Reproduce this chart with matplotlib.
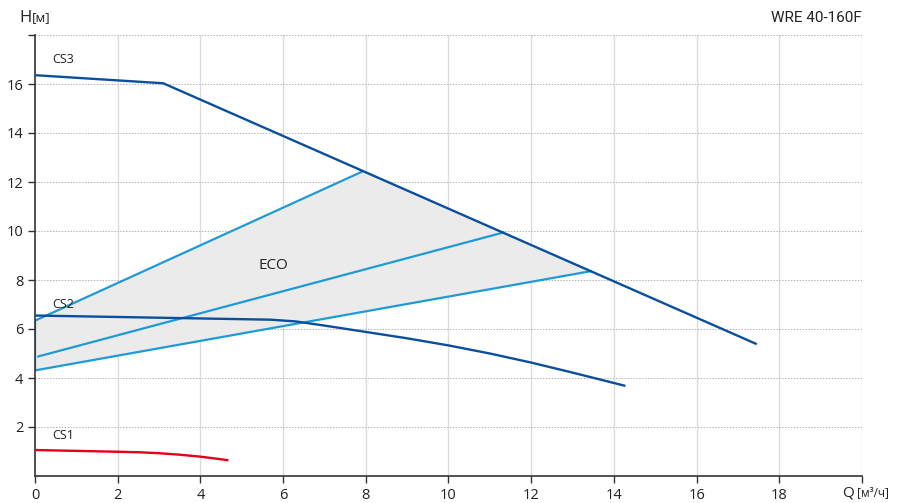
import matplotlib.pyplot as plt
import numpy as np

# Curve data (Q in m3/h, H in m)
cs3_q = [0, 3.1, 17.43]
cs3_h = [16.36, 16.03, 5.40]

cs2_q = [0, 5.7, 6.3, 7.0, 8.0, 9.0, 10.0, 11.0, 12.0, 13.0, 14.25]
cs2_h = [6.55, 6.38, 6.31, 6.14, 5.88, 5.62, 5.33, 5.0, 4.63, 4.22, 3.69]

cs1_q = [0, 2, 2.5, 3, 3.5, 4, 4.65]
cs1_h = [1.06, 0.99, 0.97, 0.93, 0.87, 0.79, 0.65]

eco_top_q = [0, 7.92]
eco_top_h = [6.34, 12.43]
eco_mid_q = [0.08, 11.33]
eco_mid_h = [4.88, 9.94]
eco_bot_q = [0, 13.44]
eco_bot_h = [4.31, 8.36]

x_ticks = [0, 2, 4, 6, 8, 10, 12, 14, 16, 18, 20]
x_labels = ['0', '2', '4', '6', '8', '10', '12', '14', '16', '18', '']
y_ticks = [2, 4, 6, 8, 10, 12, 14, 16, 18]
y_labels = ['2', '4', '6', '8', '10', '12', '14', '16', '']

dark_blue = '#0a4f9e'
light_blue = '#1e9bd7'
red = '#e2001a'

plt.rcParams['font.family'] = ['Open Sans', 'DejaVu Sans']

fig = plt.figure(figsize=(9.04, 5.03), dpi=100)
ax = fig.add_axes([35 / 904, 27 / 503, 827 / 904, 441 / 503])
ax.set_xlim(0, 20)
ax.set_ylim(0, 18)

# grid: solid vertical, dotted horizontal
for x in x_ticks[1:]:
    ax.axvline(x, color='#dcdcdc', lw=1.0, zorder=0)
for y in y_ticks:
    ax.axhline(y, color='#b4b4b4', lw=0.7, ls=(0, (1.5, 1.5)), zorder=0)

# ECO zone fill
poly_q = [eco_bot_q[0], eco_top_q[0], eco_top_q[1], eco_bot_q[1]]
poly_h = [eco_bot_h[0], eco_top_h[0], eco_top_h[1], eco_bot_h[1]]
ax.fill(poly_q, poly_h, color='#ebebeb', zorder=1, lw=0)

ax.plot([eco_bot_q[0], eco_top_q[0]], [eco_bot_h[0], eco_top_h[0]], color=light_blue, lw=1.6, zorder=2)
ax.plot(eco_top_q, eco_top_h, color=light_blue, lw=1.6, zorder=2)
ax.plot(eco_mid_q, eco_mid_h, color=light_blue, lw=1.6, zorder=2)
ax.plot(eco_bot_q, eco_bot_h, color=light_blue, lw=1.6, zorder=2)

ax.plot(cs3_q, cs3_h, color=dark_blue, lw=1.7, zorder=3)
ax.plot(cs2_q, cs2_h, color=dark_blue, lw=1.7, zorder=3)
ax.plot(cs1_q, cs1_h, color=red, lw=1.7, zorder=3)

ax.text(0.42, 17.0, 'CS3', fontsize=9, va='center', color='#222222')
ax.text(0.42, 7.0, 'CS2', fontsize=9, va='center', color='#222222')
ax.text(0.42, 1.64, 'CS1', fontsize=9, va='center', color='#222222')
ax.text(5.4, 8.6, 'ECO', fontsize=11, va='center', color='#222222')

ax.set_xticks(x_ticks)
ax.set_xticklabels(x_labels)
ax.set_yticks(y_ticks)
ax.set_yticklabels(y_labels)
ax.tick_params(direction='out', length=5, width=1, color='#333333', labelsize=10.5, labelcolor='#222222')

for s in ['top', 'right']:
    ax.spines[s].set_visible(False)
for s in ['left', 'bottom']:
    ax.spines[s].set_color('#333333')
    ax.spines[s].set_linewidth(1.2)

# axis titles and chart name
fig.text(19 / 904, 1 - 18 / 503, 'H', fontsize=12, va='center', ha='left', color='#222222')
fig.text(32 / 904, 1 - 18 / 503, '[м]', fontsize=9.5, va='center', ha='left', color='#222222')
fig.text(842 / 904, 1 - 493 / 503, 'Q', fontsize=11, va='center', ha='left', color='#222222')
fig.text(857 / 904, 1 - 493 / 503, '[м³/ч]', fontsize=8.5, va='center', ha='left', color='#222222')
fig.text(862 / 904, 1 - 18 / 503, 'WRE 40-160F', fontsize=11, va='center', ha='right',
         color='#222222', family=['Roboto', 'DejaVu Sans'])

fig.savefig('out.png', dpi=100)
